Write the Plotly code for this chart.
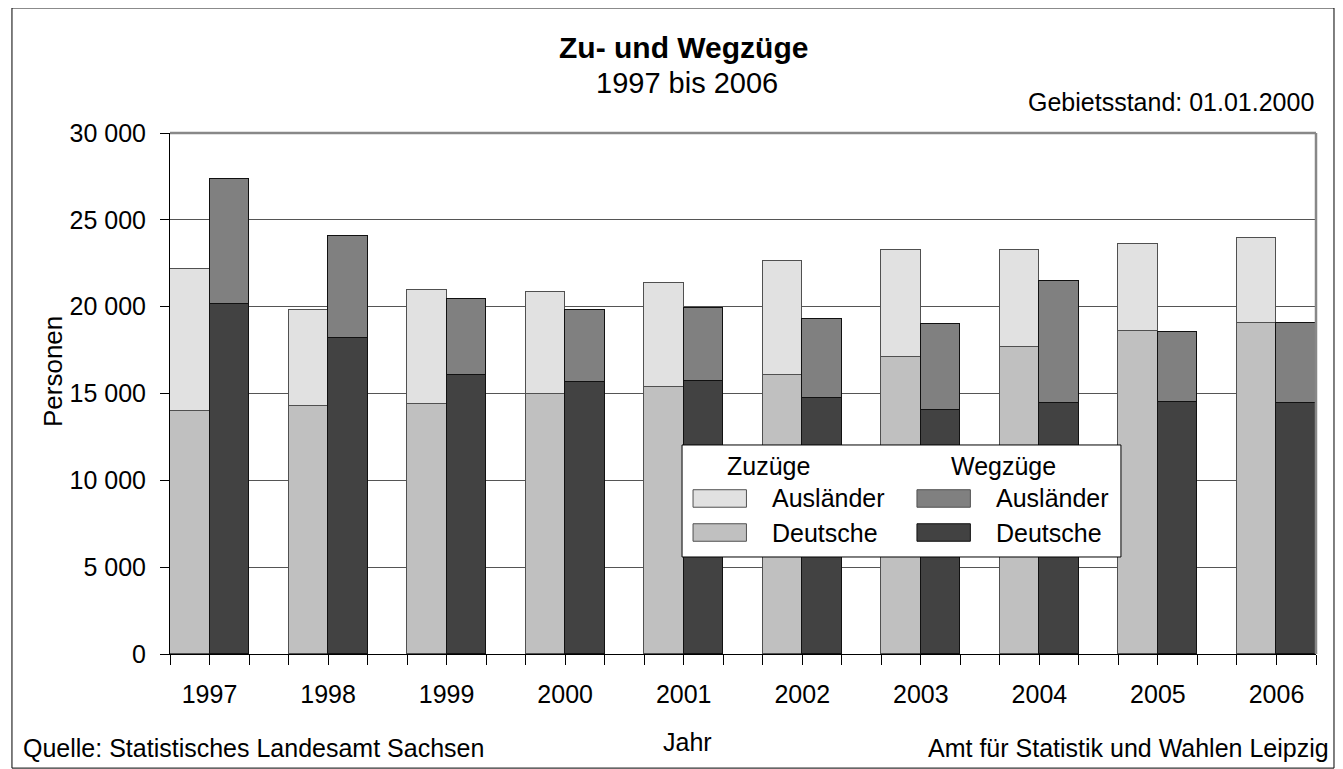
import plotly.graph_objects as go

years = ['1997', '1998', '1999', '2000', '2001', '2002', '2003', '2004', '2005', '2006']

# Zuzüge (in-migration), total and Germans
zu_deutsche = [13980, 14270, 14380, 14960, 15360, 16080, 17100, 17650, 18610, 19070]
zu_gesamt = [22150, 19810, 20940, 20850, 21360, 22630, 23290, 23290, 23600, 23960]
# Wegzüge (out-migration), total and Germans
weg_deutsche = [20130, 18210, 16060, 15650, 15710, 14750, 14040, 14440, 14500, 14480]
weg_gesamt = [27380, 24060, 20420, 19830, 19900, 19310, 18980, 21480, 18520, 19040]

zu_auslaender = [g - d for g, d in zip(zu_gesamt, zu_deutsche)]
weg_auslaender = [g - d for g, d in zip(weg_gesamt, weg_deutsche)]

# each year takes three slots: Zuzüge, Wegzüge, gap
x_zu = [3 * i for i in range(len(years))]
x_weg = [3 * i + 1 for i in range(len(years))]
x_lab = [3 * i + 0.5 for i in range(len(years))]

c_zu_d, c_zu_a = '#c0c0c0', '#e1e1e1'
c_weg_d, c_weg_a = '#424242', '#808080'
edge_zu, edge_weg = '#505050', '#111111'

FONT = 'Arial, Liberation Sans, sans-serif'

fig = go.Figure()
fig.add_trace(go.Bar(x=x_zu, y=zu_deutsche, width=1, name='Zuzüge Deutsche',
                     marker=dict(color=c_zu_d, line=dict(color=edge_zu, width=1))))
fig.add_trace(go.Bar(x=x_zu, y=zu_auslaender, width=1, name='Zuzüge Ausländer',
                     marker=dict(color=c_zu_a, line=dict(color=edge_zu, width=1))))
fig.add_trace(go.Bar(x=x_weg, y=weg_deutsche, width=1, name='Wegzüge Deutsche',
                     marker=dict(color=c_weg_d, line=dict(color=edge_weg, width=1))))
fig.add_trace(go.Bar(x=x_weg, y=weg_auslaender, width=1, name='Wegzüge Ausländer',
                     marker=dict(color=c_weg_a, line=dict(color=edge_weg, width=1))))

shapes = [
    # outer frame
    dict(type='rect', xref='paper', yref='paper', x0=-0.1379, x1=1.0157, y0=-0.219, y1=1.24,
         line=dict(color='#000000', width=1), fillcolor='rgba(0,0,0,0)', layer='below'),
    # plot area frame (top & right grey)
    dict(type='line', xref='paper', yref='paper', x0=0, x1=1, y0=1, y1=1,
         line=dict(color='#888888', width=2.5)),
    dict(type='line', xref='paper', yref='paper', x0=1, x1=1, y0=0, y1=1,
         line=dict(color='#888888', width=2.5)),
    # legend box
    dict(type='rect', xref='paper', yref='paper', x0=0.4468, x1=0.8298, y0=0.1862, y1=0.4012,
         line=dict(color='#000000', width=1), fillcolor='white', layer='above'),
]

annotations = [
    dict(text='<b>Zu- und Wegzüge</b>', x=0.4485, y=1.165, font=dict(size=30)),
    dict(text='1997 bis 2006', x=0.451, y=1.096, font=dict(size=29)),
    dict(text='Gebietsstand: 01.01.2000', x=1.0, y=1.06, xanchor='right', font=dict(size=25)),
    dict(text='Personen', x=-0.117, y=0.543, textangle=-90, font=dict(size=26)),
    dict(text='Jahr', x=0.452, y=-0.169, font=dict(size=25)),
    dict(text='Quelle: Statistisches Landesamt Sachsen', x=-0.130, y=-0.1804, xanchor='left',
         font=dict(size=25)),
    dict(text='Amt für Statistik und Wahlen Leipzig', x=1.013, y=-0.1804, xanchor='right',
         font=dict(size=25)),
]

# legend drawn by hand to keep the wide swatches and column headings
leg_cols = [
    ('Zuzüge', 0.4564, [(c_zu_a, edge_zu, 'Ausländer'), (c_zu_d, edge_zu, 'Deutsche')]),
    ('Wegzüge', 0.6518, [(c_weg_a, '#505050', 'Ausländer'), (c_weg_d, edge_weg, 'Deutsche')]),
]
row_y = [0.2985, 0.2332]
for head, x0, items in leg_cols:
    annotations.append(dict(text=head, x=x0 + 0.028, y=0.3608, xanchor='left', font=dict(size=25)))
    for (fill, edge, label), yy in zip(items, row_y):
        shapes.append(dict(type='rect', xref='paper', yref='paper', x0=x0, x1=x0 + 0.0466,
                           y0=yy - 0.0168, y1=yy + 0.0168, fillcolor=fill,
                           line=dict(color=edge, width=1), layer='above'))
        annotations.append(dict(text=label, x=x0 + 0.0675, y=yy, xanchor='left',
                                font=dict(size=25)))

for a in annotations:
    a.setdefault('xref', 'paper')
    a.setdefault('yref', 'paper')
    a.setdefault('showarrow', False)
    a.setdefault('yanchor', 'middle')

# the page body adds an 8px margin, so the figure is a little smaller than the window
fig.update_layout(
    width=1335, height=761,
    margin=dict(l=162, r=27, t=125, b=115),
    paper_bgcolor='white', plot_bgcolor='white',
    font=dict(family=FONT, size=25, color='#000000'),
    barmode='stack',
    bargap=0,
    showlegend=False,
    separators=', ',
    shapes=shapes,
    annotations=annotations,
)
fig.update_xaxes(
    range=[-0.5, 28.5],
    tickmode='array', tickvals=x_lab, ticktext=years,
    ticks='outside', ticklen=10, tickcolor='#000000',
    minor=dict(tickmode='linear', tick0=0.5, dtick=1, ticks='outside', ticklen=10,
               tickcolor='#000000', showgrid=False),
    ticklabelstandoff=8,
    showline=True, linecolor='#000000', linewidth=1,
    showgrid=False, zeroline=False, automargin=False,
    tickfont=dict(size=25),
)
fig.update_yaxes(
    range=[0, 30000], tickmode='linear', tick0=0, dtick=5000,
    tickformat=',d',
    ticks='outside', ticklen=9, tickcolor='#000000',
    showline=True, linecolor='#000000', linewidth=1,
    showgrid=True, gridcolor='#555555', gridwidth=1,
    zeroline=False, automargin=False,
    ticklabelstandoff=9,
    tickfont=dict(size=25),
)

fig.write_html('out.html')
